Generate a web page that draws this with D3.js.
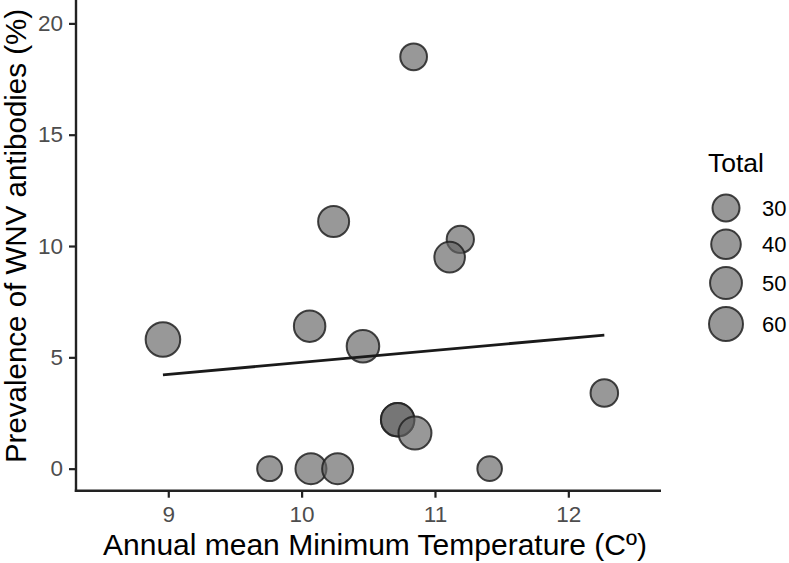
<!DOCTYPE html>
<html>
<head>
<meta charset="utf-8">
<script src="https://cdn.jsdelivr.net/npm/d3@7"></script>
<style>
  html, body { margin: 0; padding: 0; background: #fff; }
  svg { display: block; font-family: "Liberation Sans", Arial, Helvetica, sans-serif; }
</style>
</head>
<body>
<svg id="chart" width="789" height="563"></svg>
<script>
// ---- data ----
const temperature = [10.24, 10.84, 11.19, 11.11, 8.96, 10.06, 10.46, 9.76, 10.07, 10.27, 10.72, 10.72, 10.85, 12.27, 11.41];
const prevalence  = [11.1, 18.5, 10.3, 9.5, 5.8, 6.4, 5.5, 0, 0, 0, 2.2, 2.2, 1.6, 3.4, 0];
const total       = [46, 29, 31, 44, 63, 48, 53, 23, 46, 46, 57, 57, 55, 32, 22];
const trendX = [8.96, 12.27];
const trendY = [4.21, 6.00];
const xTicks = [9, 10, 11, 12];
const yTicks = [0, 5, 10, 15, 20];
const legendValues = [30, 40, 50, 60];

// ---- layout ----
const svg = d3.select("#chart");
const x = d3.scaleLinear().domain([8.308, 12.695]).range([76, 661]);
const y = d3.scaleLinear().domain([-0.99, 21.05]).range([490.7, 0]);
// size: radius linear in sqrt(total)
const r = d3.scaleSqrt().domain([30, 60]).range([13.5, 17.0]);

const FONT = '"Liberation Sans", Arial, Helvetica, sans-serif';
const axisColor = "#222";

// points
const pts = temperature.map((t, i) => ({t, p: prevalence[i], n: total[i]}));
svg.append("g").selectAll("circle").data(pts).join("circle")
  .attr("cx", d => x(d.t)).attr("cy", d => y(d.p)).attr("r", d => r(d.n))
  .attr("fill", "#666").attr("fill-opacity", 0.67)
  .attr("stroke", "#222").attr("stroke-opacity", 0.85).attr("stroke-width", 2);

// trend line
const line = d3.line().x(d => x(d[0])).y(d => y(d[1]));
svg.append("path").datum(trendX.map((v, i) => [v, trendY[i]]))
  .attr("d", line).attr("fill", "none").attr("stroke", "#1a1a1a").attr("stroke-width", 2.8);

// axes
const xAxis = d3.axisBottom(x).tickValues(xTicks).tickSize(7).tickPadding(8).tickFormat(d3.format("d"));
const gx = svg.append("g").attr("transform", `translate(0,${y(-0.99)})`).call(xAxis);
gx.attr("font-size", null).attr("font-family", null);
gx.select(".domain").attr("d", `M${x.range()[0] - 1.2},0H${x.range()[1]}`).attr("stroke", axisColor).attr("stroke-width", 2.4);
gx.selectAll(".tick line").attr("stroke", axisColor).attr("stroke-width", 2.2);
gx.selectAll(".tick text").attr("fill", "#4d4d4d").attr("font-size", "22.5px").attr("font-family", FONT);

const yAxis = d3.axisLeft(y).tickValues(yTicks).tickSize(7).tickPadding(6).tickFormat(d3.format("d"));
const gy = svg.append("g").attr("transform", `translate(${x(8.308)},0)`).call(yAxis);
gy.attr("font-size", null).attr("font-family", null);
gy.select(".domain").attr("d", `M0,0V${y.range()[0] + 1.2}`).attr("stroke", axisColor).attr("stroke-width", 2.4);
gy.selectAll(".tick line").attr("stroke", axisColor).attr("stroke-width", 2.2);
gy.selectAll(".tick text").attr("fill", "#4d4d4d").attr("font-size", "22.5px").attr("font-family", FONT);

// axis titles
svg.append("text").attr("x", 375).attr("y", 555)
  .attr("text-anchor", "middle").attr("font-size", "30px").attr("font-family", FONT).attr("fill", "#000")
  .text("Annual mean Minimum Temperature (Cº)");
svg.append("text").attr("transform", `translate(25.5,236) rotate(-90)`)
  .attr("text-anchor", "middle").attr("font-size", "29.5px").attr("font-family", FONT).attr("fill", "#000")
  .text("Prevalence of WNV antibodies (%)");

// legend
const lg = svg.append("g");
lg.append("text").attr("x", 708).attr("y", 172).attr("font-size", "26.5px").attr("font-family", FONT)
  .attr("fill", "#000").text("Total");
let cy = 208;
legendValues.forEach((v, i) => {
  if (i > 0) cy += r(legendValues[i - 1]) + r(v) + 8;
  lg.append("circle").attr("cx", 726).attr("cy", cy).attr("r", r(v))
    .attr("fill", "#666").attr("fill-opacity", 0.67)
    .attr("stroke", "#222").attr("stroke-opacity", 0.85).attr("stroke-width", 2);
  lg.append("text").attr("x", 762).attr("y", cy).attr("dy", "0.36em")
    .attr("font-size", "22px").attr("font-family", FONT).attr("fill", "#000").text(v);
});
</script>
</body>
</html>
